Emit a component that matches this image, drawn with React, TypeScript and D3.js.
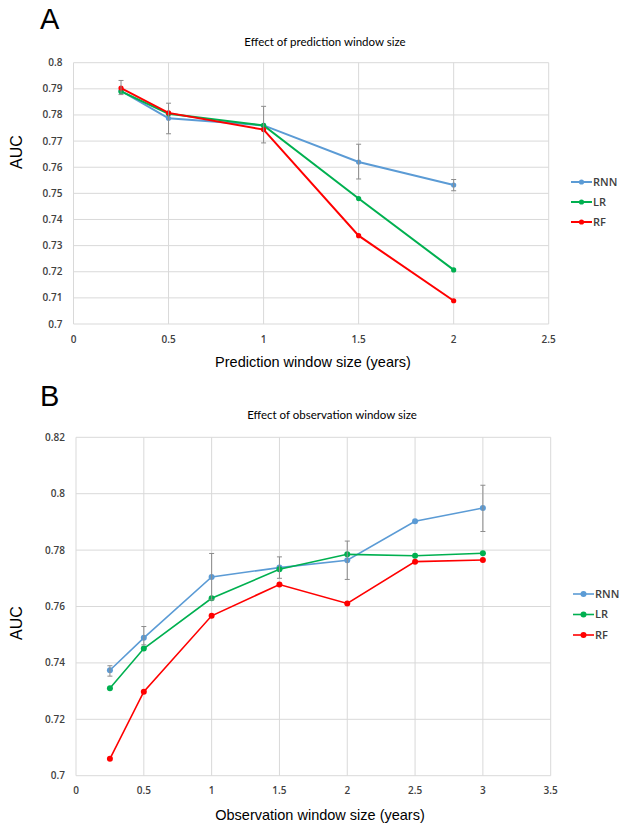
import React from "react";
import * as d3 from "d3";

const seriesNames = ["RNN", "LR", "RF"];
const seriesColors = ["#5B9BD5", "#00B050", "#FF0000"];

// Panel A: prediction window size
const xA = [0.25, 0.5, 1, 1.5, 2];
const rnnA = [0.7892, 0.7787, 0.776, 0.762, 0.7532];
const rnnAlowA = [0.7878, 0.7728, 0.7693, 0.7555, 0.751];
const rnnAhighA = [0.7932, 0.7845, 0.7833, 0.7688, 0.7553];
const lrA = [0.789, 0.7805, 0.776, 0.748, 0.7207];
const rfA = [0.7903, 0.7808, 0.7744, 0.7338, 0.7089];
const xTicksA = [0, 0.5, 1, 1.5, 2, 2.5];
const yTicksA = [0.7, 0.71, 0.72, 0.73, 0.74, 0.75, 0.76, 0.77, 0.78, 0.79, 0.8];

// Panel B: observation window size
const xB = [0.25, 0.5, 1, 1.5, 2, 2.5, 3];
const rnnB = [0.7374, 0.7489, 0.7705, 0.7738, 0.7764, 0.7902, 0.7949];
const rnnBlow = [0.7353, 0.7464, 0.7623, 0.77, 0.7696, 0.7902, 0.7866];
const rnnBhigh = [0.739, 0.7529, 0.7788, 0.7776, 0.7832, 0.7902, 0.803];
const lrB = [0.731, 0.7451, 0.7629, 0.7732, 0.7785, 0.778, 0.7789];
const rfB = [0.706, 0.7298, 0.7567, 0.7678, 0.7611, 0.7759, 0.7765];
const xTicksB = [0, 0.5, 1, 1.5, 2, 2.5, 3, 3.5];
const yTicksB = [0.7, 0.72, 0.74, 0.76, 0.78, 0.8, 0.82];

type PanelProps = {
  letter: string;
  letterY: number;
  title: string;
  titleX: number;
  titleY: number;
  xLabel: string;
  xLabelX: number;
  xLabelY: number;
  aucY: number;
  left: number;
  right: number;
  top: number;
  bottom: number;
  xDomain: [number, number];
  yDomain: [number, number];
  xTicks: number[];
  yTicks: number[];
  xs: number[];
  series: number[][];
  errLow: number[];
  errHigh: number[];
  legendX: number;
  legendY: number;
  legendGap: number;
  lineW: number;
  r: number;
};

function Panel(p: PanelProps) {
  const x = d3.scaleLinear().domain(p.xDomain).range([p.left, p.right]);
  const y = d3.scaleLinear().domain(p.yDomain).range([p.bottom, p.top]);
  const line = d3
    .line<number>()
    .x((_, i) => x(p.xs[i]))
    .y((d) => y(d));
  const fmt = (v: number) => String(+v.toFixed(3));
  const tickFont = "'Open Sans', sans-serif";
  return (
    <g>
      <text x={40} y={p.letterY} fontFamily="'Liberation Sans', Arial, sans-serif" fontSize={29} fill="#000">
        {p.letter}
      </text>
      <text x={p.titleX} y={p.titleY} textAnchor="middle" fontFamily="Lato, sans-serif" fontSize={11.5} fill="#000">
        {p.title}
      </text>
      {p.yTicks.map((t) => (
        <line key={"gy" + t} x1={p.left} x2={p.right} y1={y(t)} y2={y(t)} stroke="#d9d9d9" strokeWidth={1} />
      ))}
      {p.xTicks.map((t) => (
        <line key={"gx" + t} x1={x(t)} x2={x(t)} y1={p.top} y2={p.bottom} stroke="#d9d9d9" strokeWidth={1} />
      ))}
      {p.yTicks.map((t) => (
        <text key={"ty" + t} x={p.left - 11} y={y(t)} dy="0.35em" textAnchor="end" fontFamily={tickFont} fontWeight={600} fontSize={10} fill="#404040">
          {fmt(t)}
        </text>
      ))}
      {p.xTicks.map((t) => (
        <text key={"tx" + t} x={x(t)} y={p.bottom + 15} dy="0.35em" textAnchor="middle" fontFamily={tickFont} fontWeight={600} fontSize={10} fill="#404040">
          {fmt(t)}
        </text>
      ))}
      <text
        transform={`translate(22,${p.aucY}) rotate(-90)`}
        textAnchor="middle"
        fontFamily="'Liberation Sans', Arial, sans-serif"
        fontSize={16}
        fill="#000"
      >
        AUC
      </text>
      <text x={p.xLabelX} y={p.xLabelY} textAnchor="middle" dy="0.35em" fontFamily="'Liberation Sans', Arial, sans-serif" fontSize={14.5} fill="#000">
        {p.xLabel}
      </text>
      {p.series.map((s, si) => (
        <g key={"s" + si}>
          <path d={line(s) || ""} fill="none" stroke={seriesColors[si]} strokeWidth={p.lineW} />
          {s.map((v, i) => (
            <circle key={i} cx={x(p.xs[i])} cy={y(v)} r={p.r} fill={seriesColors[si]} />
          ))}
        </g>
      ))}
      {p.xs.map((xv, i) =>
        p.errHigh[i] - p.errLow[i] > 0.0005 ? (
          <g key={"e" + i} stroke="#8c8c8c" strokeWidth={1}>
            <line x1={x(xv)} x2={x(xv)} y1={y(p.errLow[i])} y2={y(p.errHigh[i])} />
            <line x1={x(xv) - 2.5} x2={x(xv) + 2.5} y1={y(p.errLow[i])} y2={y(p.errLow[i])} />
            <line x1={x(xv) - 2.5} x2={x(xv) + 2.5} y1={y(p.errHigh[i])} y2={y(p.errHigh[i])} />
          </g>
        ) : null
      )}
      {seriesNames.map((n, i) => {
        const ly = p.legendY + i * p.legendGap;
        return (
          <g key={"l" + n}>
            <line x1={p.legendX} x2={p.legendX + 21} y1={ly} y2={ly} stroke={seriesColors[i]} strokeWidth={p.lineW} />
            <circle cx={p.legendX + 10.5} cy={ly} r={p.r} fill={seriesColors[i]} />
            <text x={p.legendX + 22} y={ly} dy="0.35em" fontFamily={tickFont} fontWeight={600} fontSize={11} fill="#404040">
              {n}
            </text>
          </g>
        );
      })}
    </g>
  );
}

export default function App() {
  return (
    <svg width={625} height={827} style={{ position: "absolute", left: 0, top: 0, background: "#fff" }}>
      <rect width={625} height={827} fill="#fff" />
      <Panel
        letter="A"
        letterY={28.5}
        title="Effect of prediction window size"
        titleX={325}
        titleY={46}
        xLabel="Prediction window size (years)"
        xLabelX={313}
        xLabelY={362}
        aucY={152}
        left={73.5}
        right={548.7}
        top={62.7}
        bottom={324}
        xDomain={[0, 2.5]}
        yDomain={[0.7, 0.8]}
        xTicks={xTicksA}
        yTicks={yTicksA}
        xs={xA}
        series={[rnnA, lrA, rfA]}
        errLow={rnnAlowA}
        errHigh={rnnAhighA}
        legendX={571}
        legendY={182}
        legendGap={20}
        lineW={2}
        r={2.6}
      />
      <Panel
        letter="B"
        letterY={406}
        title="Effect of observation window size"
        titleX={332}
        titleY={419}
        xLabel="Observation window size (years)"
        xLabelX={320}
        xLabelY={815}
        aucY={623}
        left={76}
        right={550.7}
        top={437.3}
        bottom={775.7}
        xDomain={[0, 3.5]}
        yDomain={[0.7, 0.82]}
        xTicks={xTicksB}
        yTicks={yTicksB}
        xs={xB}
        series={[rnnB, lrB, rfB]}
        errLow={rnnBlow}
        errHigh={rnnBhigh}
        legendX={573}
        legendY={594}
        legendGap={20.5}
        lineW={1.6}
        r={3}
      />
    </svg>
  );
}
